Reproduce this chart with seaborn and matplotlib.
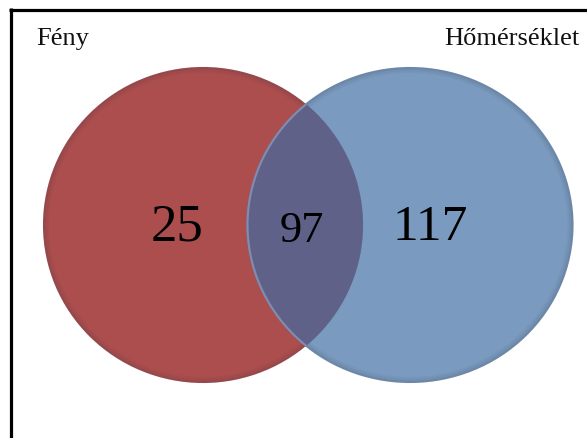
import matplotlib
matplotlib.use("Agg")
import matplotlib.pyplot as plt
from matplotlib.patches import Ellipse
from matplotlib.lines import Line2D
import seaborn as sns

# adatok
set_labels = ["Fény", "Hőmérséklet"]
only_counts = [25, 117]
shared_count = 97

sns.set_theme(style="white")
plt.rcParams["font.family"] = ["Liberation Serif", "DejaVu Serif"]

colors = ["#ad4e4e", "#7a9bbf"]
overlap_color = "#5f6189"

fig = plt.figure(figsize=(5.87, 4.39), dpi=100)
ax = fig.add_axes([0, 0, 1, 1])
ax.set_xlim(0, 587)
ax.set_ylim(439, 0)
ax.axis("off")

# körök (pixel koordinátákban)
centers = [(203, 226), (410, 226)]
sizes = [(320, 316), (327, 316)]

circles = []
for (cx, cy), (w, h), c in zip(centers, sizes, colors):
    e = Ellipse((cx, cy), w, h, facecolor=c, edgecolor="none", zorder=1)
    ax.add_patch(e)
    circles.append(e)
    # sötétebb perem
    for k, a in enumerate([0.18, 0.10, 0.05]):
        ax.add_patch(Ellipse((cx, cy), w - 2 - 4 * k, h - 2 - 4 * k, facecolor="none",
                             edgecolor="#303040", lw=1.6, alpha=a, zorder=2))

# metszet
inter = Ellipse(centers[1], *sizes[1], facecolor=overlap_color, edgecolor="none", zorder=3)
ax.add_patch(inter)
inter.set_clip_path(circles[0])
rim = Ellipse(centers[1], sizes[1][0] - 2, sizes[1][1] - 2, facecolor="none",
              edgecolor="#8a98b8", lw=1.5, alpha=0.8, zorder=4)
ax.add_patch(rim)
rim.set_clip_path(circles[0])

# számok
ax.text(177, 228, str(only_counts[0]), fontsize=38, ha="center", va="center", color="black", zorder=5)
ax.text(302, 231, str(shared_count), fontsize=32, ha="center", va="center", color="black", zorder=5)
ax.text(430, 228, str(only_counts[1]), fontsize=37, ha="center", va="center", color="black", zorder=5)

# feliratok
ax.text(36, 45, set_labels[0], fontsize=19, ha="left", va="baseline", color="#111111")
ax.text(579, 45, set_labels[1], fontsize=19, ha="right", va="baseline", color="#111111")

# keret
W, H = 587, 439
fig.add_artist(Line2D([10.5 / W, 10.5 / W], [0, 1 - 9 / H], color="black", lw=2.3,
                      transform=fig.transFigure, solid_capstyle="butt"))
fig.add_artist(Line2D([9 / W, 1], [1 - 10.5 / H, 1 - 10.5 / H], color="black", lw=2.3,
                      transform=fig.transFigure, solid_capstyle="butt"))

fig.savefig("out.png", dpi=100)
